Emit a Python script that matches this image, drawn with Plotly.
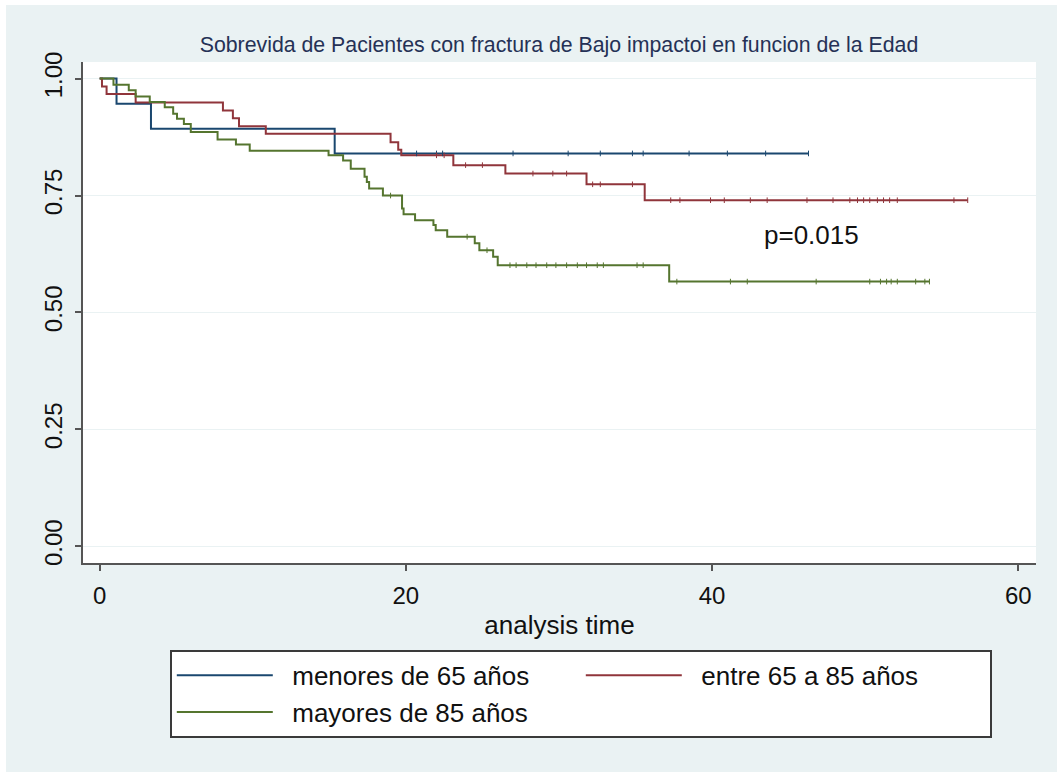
import numpy as np
import plotly.graph_objects as go

# ---------------- data ----------------
series_names = ["menores de 65 años", "entre 65 a 85 años", "mayores de 85 años"]
series_colors = ["#1a476f", "#90353b", "#55752f"]

# Kaplan-Meier steps: time of each change and survival after it (last point = end of follow-up)
blue_t = [0, 1.1, 3.35, 15.35, 46.3]
blue_s = [1.0, 0.946, 0.893, 0.840, 0.840]
blue_cens = [20.7, 22.0, 22.4, 27.0, 30.6, 32.7, 34.8, 35.5, 38.5, 41.0, 43.5, 46.3]

red_t = [0, 0.15, 0.45, 2.35, 8.05, 8.7, 9.1, 10.85, 19.0, 19.5, 19.7,
         23.1, 26.5, 31.8, 35.6, 56.7]
red_s = [1.0, 0.983, 0.967, 0.949, 0.932, 0.915, 0.898, 0.882, 0.864, 0.848, 0.836,
         0.815, 0.797, 0.774, 0.740, 0.740]
red_cens = [22.0, 22.5, 23.9, 25.0, 28.3, 29.6, 30.5, 32.2, 32.7, 34.8, 37.3, 37.9,
            39.9, 40.8, 42.5, 43.6, 46.2, 47.9, 49.0, 49.5, 49.9, 50.3, 50.8, 51.2,
            51.6, 52.1, 55.8, 56.7]

green_t = [0, 0.9, 1.9, 2.35, 3.27, 4.25, 4.8, 5.05, 5.5, 5.95, 7.7, 8.9, 9.8,
           14.95, 15.9, 16.4, 17.3, 17.45, 17.6, 18.5, 19.75, 19.85, 20.6,
           21.8, 21.95, 22.7, 24.5, 24.8, 25.7, 26.0, 37.2, 54.2]
green_s = [1.0, 0.987, 0.975, 0.962, 0.950, 0.939, 0.925, 0.914, 0.903, 0.886, 0.870, 0.859, 0.846,
           0.836, 0.825, 0.807, 0.790, 0.779, 0.765, 0.750, 0.722, 0.710, 0.697,
           0.687, 0.676, 0.662, 0.648, 0.633, 0.619, 0.601, 0.566, 0.566]
green_cens = [19.0, 24.0, 25.3, 26.8, 27.2, 27.9, 28.5, 29.2, 29.8, 30.5, 31.2, 31.8,
              32.5, 32.9, 35.1, 35.5, 37.7, 41.2, 42.3, 46.8, 50.3, 51.0, 51.4, 51.7,
              52.1, 53.3, 53.9, 54.2]

x_ticks = [0, 20, 40, 60]
y_ticks = [0, 0.25, 0.5, 0.75, 1.0]
y_ticklabels = ["0.00", "0.25", "0.50", "0.75", "1.00"]

title_text = "Sobrevida de Pacientes con fractura de Bajo impactoi en funcion de la Edad"
x_title = "analysis time"
p_text = "p=0.015"
p_pos = (46.5, 0.665)

# ---------------- figure ----------------
FONT = "Liberation Sans, Arial, Helvetica, sans-serif"
BG = "#eaf2f3"
OFF_X, OFF_Y = 6, 5          # page offset of the figure (body margin)
PL, PR, PT, PB = 83, 1036, 62, 563   # plot area in page pixels
FW, FH = 1057, 772


def surv_at(ts, ss, times):
    ts = np.asarray(ts)
    ss = np.asarray(ss)
    idx = np.searchsorted(ts, np.asarray(times), side="right") - 1
    return ss[idx]


fig = go.Figure()
curves = [(blue_t, blue_s, blue_cens), (red_t, red_s, red_cens), (green_t, green_s, green_cens)]
for (ts, ss, cens), name, col in zip(curves, series_names, series_colors):
    fig.add_trace(go.Scatter(x=ts, y=ss, mode="lines", name="\u00a0\u00a0" + name,
                             line=dict(color=col, width=2, shape="hv")))
for (ts, ss, cens), name, col in zip(curves, series_names, series_colors):
    fig.add_trace(go.Scatter(x=cens, y=surv_at(ts, ss, cens), mode="markers",
                             showlegend=False, hoverinfo="skip",
                             marker=dict(symbol="line-ns", size=4,
                                         line=dict(color=col, width=1))))

fig.add_annotation(x=p_pos[0], y=p_pos[1], text=p_text, showarrow=False,
                   font=dict(family=FONT, size=26, color="#111111"))

pw = PR - PL
ph = PB - PT
fig.update_layout(
    width=FW, height=FH,
    margin=dict(l=PL - OFF_X, r=FW - (PR - OFF_X), t=PT - OFF_Y, b=FH - (PB - OFF_Y)),
    paper_bgcolor=BG, plot_bgcolor="white",
    font=dict(family=FONT, color="#111111"),
    title=dict(text=title_text, x=(559 - OFF_X) / FW, xanchor="center",
               y=1 - (45 - OFF_Y) / FH, yanchor="middle",
               font=dict(family=FONT, size=21.3, color="#253156")),
    showlegend=True,
    legend=dict(orientation="h", x=(170 - PL) / pw, xanchor="left",
                y=(PB - 650) / ph, yanchor="top",
                bgcolor="white", bordercolor="#3a3a3a", borderwidth=1.8,
                font=dict(family=FONT, size=26, color="#111111"),
                entrywidth=298, entrywidthmode="pixels", itemwidth=96,
                traceorder="normal"),
)
fig.update_xaxes(range=[-1.09, 61.16], tickvals=x_ticks, showgrid=False, zeroline=False,
                 showline=True, linecolor="#555555", linewidth=1.5,
                 ticks="outside", ticklen=6, tickcolor="#555555", tickwidth=1.5,
                 tickfont=dict(family=FONT, size=24, color="#111111"),
                 ticklabelstandoff=4,
                 title=dict(text=x_title, font=dict(family=FONT, size=26, color="#111111"),
                            standoff=8))
fig.update_yaxes(range=[-0.0357, 1.0355], tickvals=y_ticks, ticktext=y_ticklabels,
                 tickangle=-90, showgrid=True, gridcolor=BG, gridwidth=1.2,
                 zeroline=False, showline=True, linecolor="#555555", linewidth=1.5,
                 ticks="outside", ticklen=6, tickcolor="#555555", tickwidth=1.5,
                 tickfont=dict(family=FONT, size=24, color="#111111"),
                 ticklabelstandoff=4)

fig.write_html("out.html", config={"displayModeBar": False},
               post_script="document.body.style.margin='%dpx 0 0 %dpx';" % (OFF_Y, OFF_X))
